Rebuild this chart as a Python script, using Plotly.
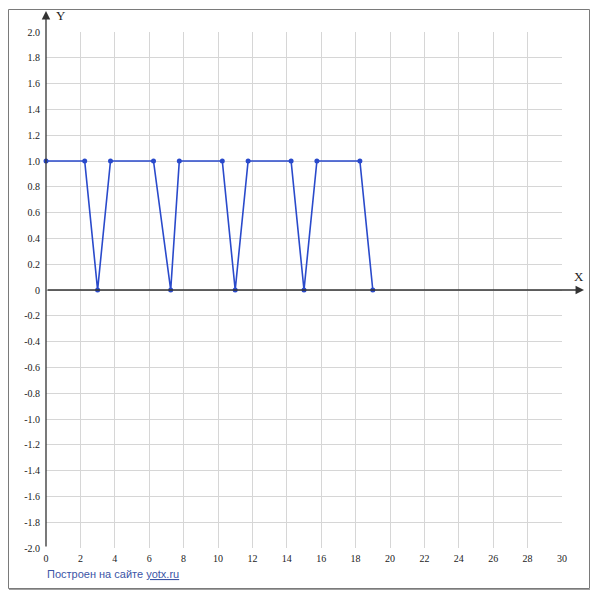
import plotly.graph_objects as go

# ломаная: точки графика
X_VALUES = [0, 2.25, 3, 3.75, 6.25, 7.25, 7.75, 10.25, 11, 11.75, 14.25, 15, 15.75, 18.25, 19]
Y_VALUES = [1, 1, 0, 1, 1, 0, 1, 1, 0, 1, 1, 0, 1, 1, 0]

X_TICKS = list(range(0, 31, 2))
Y_TICKS = [round(-2 + 0.2 * i, 1) for i in range(21)]
Y_TICKTEXT = ["0" if v == 0 else f"{v:.1f}" for v in Y_TICKS]

LINE_COLOR = "#2a4acb"
GRID_COLOR = "#d6d6d6"
AXIS_COLOR = "#333333"
TEXT_COLOR = "#222222"
FOOTER_COLOR = "#3b55a6"

# страница добавляет отступ body 8px
OFFSET = 8
W, H = 590, 592
L, R, T, B = 38, 36, 24, 52
PW, PH = W - L - R, H - T - B


def px_x(px):
    return (px - OFFSET - L) / PW


def px_y(py):
    return (H - B - (py - OFFSET)) / PH


fig = go.Figure()
fig.add_trace(go.Scatter(
    x=X_VALUES,
    y=Y_VALUES,
    mode="lines+markers",
    line=dict(color=LINE_COLOR, width=1.6),
    marker=dict(color=LINE_COLOR, size=5),
    cliponaxis=False,
    showlegend=False,
))

axis_font = dict(family="Liberation Serif, serif", size=10, color=TEXT_COLOR)

fig.update_layout(
    width=W,
    height=H,
    margin=dict(l=L, r=R, t=T, b=B),
    paper_bgcolor="white",
    plot_bgcolor="white",
    xaxis=dict(
        range=[0, 30],
        tickvals=X_TICKS,
        ticktext=[str(v) for v in X_TICKS],
        showgrid=True,
        gridcolor=GRID_COLOR,
        gridwidth=1,
        zeroline=False,
        showline=False,
        ticks="",
        ticklabelstandoff=3,
        tickfont=axis_font,
        fixedrange=True,
    ),
    yaxis=dict(
        range=[-2, 2],
        tickvals=Y_TICKS,
        ticktext=Y_TICKTEXT,
        showgrid=True,
        gridcolor=GRID_COLOR,
        gridwidth=1,
        zeroline=False,
        showline=False,
        ticks="",
        ticklabelstandoff=5,
        tickfont=axis_font,
        fixedrange=True,
    ),
)

# оси со стрелками
fig.add_annotation(
    xref="paper", yref="y", x=px_x(584), y=0,
    ax=-(584 - OFFSET - L), ay=0, axref="pixel", ayref="pixel",
    text="", showarrow=True, arrowhead=2, arrowsize=1.3, arrowwidth=1.3,
    arrowcolor=AXIS_COLOR, standoff=0, startstandoff=0,
)
fig.add_annotation(
    xref="x", yref="paper", x=0, y=px_y(11),
    ax=0, ay=(548 - 11), axref="pixel", ayref="pixel",
    text="", showarrow=True, arrowhead=2, arrowsize=1.3, arrowwidth=1.3,
    arrowcolor=AXIS_COLOR, standoff=0, startstandoff=0,
)

label_font = dict(family="Liberation Serif, serif", size=13, color=TEXT_COLOR)
fig.add_annotation(xref="paper", yref="paper", x=px_x(61), y=px_y(16),
                   xanchor="center", yanchor="middle",
                   text="Y", showarrow=False, font=label_font)
fig.add_annotation(xref="paper", yref="paper", x=px_x(579), y=px_y(276),
                   xanchor="center", yanchor="middle",
                   text="X", showarrow=False, font=label_font)

fig.add_annotation(
    xref="paper", yref="paper", x=px_x(45), y=px_y(574),
    xanchor="left", yanchor="middle",
    text="Построен на сайте <u>yotx.ru</u>", showarrow=False,
    font=dict(family="Liberation Sans, Arial, sans-serif", size=11, color=FOOTER_COLOR),
)

# рамка с тенью
fig.add_shape(type="rect", xref="paper", yref="paper",
              x0=px_x(8.5), x1=px_x(589.5), y0=px_y(588.5), y1=px_y(9.5),
              line=dict(color="#7a7a7a", width=1), layer="below")
fig.add_shape(type="line", xref="paper", yref="paper",
              x0=px_x(590.5), x1=px_x(590.5), y0=px_y(589.5), y1=px_y(10),
              line=dict(color="#a0a0a0", width=1))
fig.add_shape(type="line", xref="paper", yref="paper",
              x0=px_x(9), x1=px_x(590.5), y0=px_y(589.5), y1=px_y(589.5),
              line=dict(color="#a0a0a0", width=1))

fig.write_html("out.html")
